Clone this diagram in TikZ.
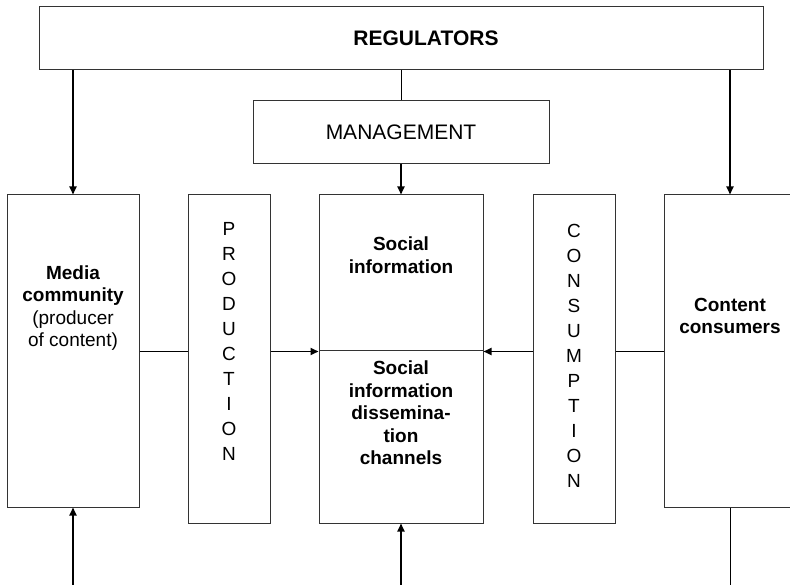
\documentclass[tikz,border=0pt]{standalone}
\usepackage{fontspec}
\setmainfont{Liberation Sans}
\usetikzlibrary{arrows.meta,positioning,calc}

\begin{document}
\begin{tikzpicture}[
    x=1pt, y=-1pt,
    panel/.style={rectangle, draw=black!80, line width=1pt, inner sep=0pt},
    label/.style={align=center, inner sep=0pt, font=\fontsize{19}{22.5}\selectfont\bfseries},
    plain/.style={align=center, inner sep=0pt, font=\fontsize{19}{22.5}\selectfont},
    spelled/.style={align=center, inner sep=0pt, font=\fontsize{19}{25}\selectfont},
    arrow/.style={-{Triangle[length=8pt,width=7pt]}, line width=1.8pt},
    link/.style={line width=1pt}
]
    \clip (0,0) rectangle (790,585);

    % Top layer
    \node[panel, minimum width=724pt, minimum height=63pt] (regs) at (401,38.5) {};
    \node[plain, font=\fontsize{21}{24}\selectfont\bfseries] (regstext) at (426,38.5) {REGULATORS};
    \node[panel, minimum width=296pt, minimum height=63pt] (mgmt) at (401,132.5) {};
    \node[plain, font=\fontsize{21}{24}\selectfont] (mgmttext) at (mgmt.center) {MANAGEMENT};

    % Middle row
    \node[panel, minimum width=132pt, minimum height=312pt] (media) at (73,351) {};
    \node[panel, minimum width=82pt, minimum height=328pt] (prod) at (229,359) {};
    \node[panel, minimum width=164pt, minimum height=156pt] (soctop) at (401,273) {};
    \node[panel, minimum width=164pt, minimum height=172pt] (socbot) at (401,437) {};
    \node[panel, minimum width=82pt, minimum height=328pt] (cons) at (574,359) {};
    \node[panel, minimum width=140pt, minimum height=312pt] (users) at (734,351) {};

    % Texts
    \node[plain] (mediatext) at (73,308) {\textbf{Media}\\\textbf{community}\\(producer\\of content)};
    \node[spelled] (prodtext) at (229,341) {P\\R\\O\\D\\U\\C\\T\\I\\O\\N};
    \node[label] (soctoptext) at (401,255) {Social\\information};
    \node[label] (socbottext) at (401,413) {Social\\information\\dissemina-\\tion\\channels};
    \node[spelled] (constext) at (574,356) {C\\O\\N\\S\\U\\M\\P\\T\\I\\O\\N};
    \node[label] (userstext) at (730,316) {Content\\consumers};

    % Bottom edge
    \coordinate (base) at (0,590);

    % Arrows
    \draw[arrow] (regs.south -| media.north) -- (media.north);
    \draw[link] (regs.south -| mgmt.north) -- (mgmt.north);
    \draw[arrow] (mgmt.south) -- (soctop.north);
    \draw[arrow] (regs.south -| 730,0) -- (users.north -| 730,0);
    \draw[link] (soctop.south west -| media.east) -- (soctop.south west -| prod.west);
    \draw[arrow] (soctop.south west -| prod.east) -- (soctop.south west);
    \draw[arrow] (soctop.south east -| cons.west) -- (soctop.south east);
    \draw[link] (soctop.south east -| cons.east) -- (soctop.south east -| users.west);
    \draw[arrow] (base -| media.south) -- (media.south);
    \draw[arrow] (base -| socbot.south) -- (socbot.south);
    \draw[link] (users.south -| 730,0) -- (base -| 730,0);
\end{tikzpicture}
\end{document}
